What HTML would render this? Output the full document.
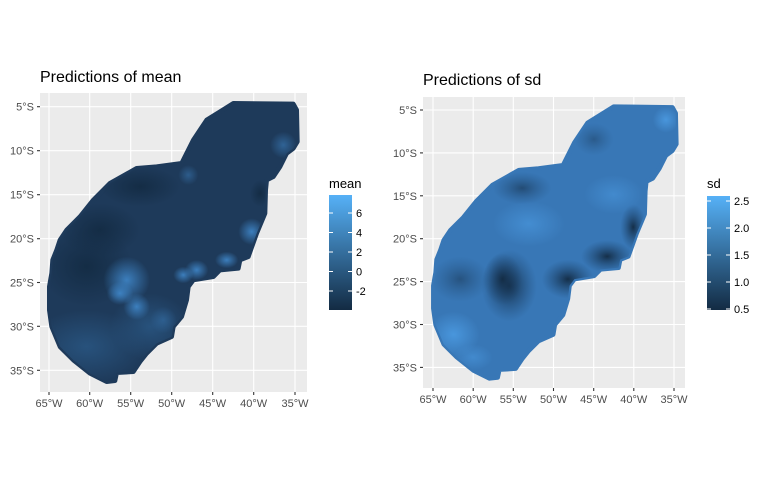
<!DOCTYPE html>
<html><head><meta charset="utf-8"><style>body{margin:0;background:#fff}svg{display:block;font-family:"Liberation Sans",Arial,sans-serif}</style></head><body>
<svg width="768" height="480" viewBox="0 0 768 480">
<defs>
<path id="shape" d="M700,130 L880,132 L890,150 L892,245 L880,265 L860,280 L840,320 L820,350 L800,360 L797,390 L795,460 L770,520 L745,590 L720,600 L715,625 L660,630 L640,650 L580,660 L565,680 L560,720 L545,770 L520,800 L515,830 L470,850 L440,880 L420,905 L400,935 L350,938 L345,962 L320,965 L270,940 L220,900 L180,860 L155,800 L148,750 L148,680 L155,640 L158,600 L170,570 L180,540 L200,510 L240,470 L280,420 L330,370 L410,325 L470,320 L545,310 L560,280 L580,240 L620,180 L660,155 Z"/>
<clipPath id="clipS"><use href="#shape"/></clipPath>
<radialGradient id="glow"><stop offset="0" stop-color="#3f86c8" stop-opacity="0.9"/><stop offset="1" stop-color="#3f86c8" stop-opacity="0"/></radialGradient>
<radialGradient id="soft"><stop offset="0" stop-color="#2a5885" stop-opacity="0.8"/><stop offset="1" stop-color="#2a5885" stop-opacity="0"/></radialGradient>
<radialGradient id="dark"><stop offset="0" stop-color="#132B43" stop-opacity="0.9"/><stop offset="1" stop-color="#132B43" stop-opacity="0"/></radialGradient>
<radialGradient id="darkS"><stop offset="0" stop-color="#132B43" stop-opacity="0.95"/><stop offset="1" stop-color="#1e4670" stop-opacity="0"/></radialGradient>
<radialGradient id="lightS"><stop offset="0" stop-color="#4d9ee6" stop-opacity="0.8"/><stop offset="1" stop-color="#4d9ee6" stop-opacity="0"/></radialGradient>
<linearGradient id="cb" x1="0" y1="0" x2="0" y2="1"><stop offset="0" stop-color="#56B1F7"/><stop offset="1" stop-color="#132B43"/></linearGradient>
</defs>

<!-- LEFT -->
<rect x="40" y="93" width="267" height="299" fill="#ebebeb"/>
<g stroke="#fff" stroke-width="1.1">
<line x1="49" y1="93" x2="49" y2="392"/><line x1="89.7" y1="93" x2="89.7" y2="392"/><line x1="130.7" y1="93" x2="130.7" y2="392"/><line x1="171.7" y1="93" x2="171.7" y2="392"/><line x1="212.7" y1="93" x2="212.7" y2="392"/><line x1="253.7" y1="93" x2="253.7" y2="392"/><line x1="295" y1="93" x2="295" y2="392"/>
<line x1="40" y1="106.7" x2="307" y2="106.7"/><line x1="40" y1="150.7" x2="307" y2="150.7"/><line x1="40" y1="194.7" x2="307" y2="194.7"/><line x1="40" y1="238.7" x2="307" y2="238.7"/><line x1="40" y1="282.5" x2="307" y2="282.5"/><line x1="40" y1="326.3" x2="307" y2="326.3"/><line x1="40" y1="370.3" x2="307" y2="370.3"/>
</g>
<g transform="translate(0,60) scale(0.33333)">
<use href="#shape" fill="#1e3a5a" stroke="#1e3a5a" stroke-width="14" stroke-linejoin="round"/>
<g clip-path="url(#clipS)">
<ellipse cx="260" cy="620" rx="140" ry="120" fill="url(#dark)"/>
<ellipse cx="300" cy="510" rx="120" ry="80" fill="url(#dark)"/>
<ellipse cx="420" cy="380" rx="120" ry="60" fill="url(#dark)"/>
<ellipse cx="260" cy="860" rx="180" ry="110" fill="url(#soft)"/>
<ellipse cx="450" cy="800" rx="120" ry="100" fill="url(#soft)"/>
<ellipse cx="380" cy="660" rx="70" ry="70" fill="url(#glow)"/>
<ellipse cx="360" cy="700" rx="40" ry="35" fill="url(#glow)"/>
<ellipse cx="410" cy="740" rx="40" ry="40" fill="url(#glow)"/>
<ellipse cx="590" cy="630" rx="35" ry="30" fill="url(#glow)"/>
<ellipse cx="550" cy="645" rx="30" ry="25" fill="url(#glow)"/>
<ellipse cx="680" cy="600" rx="35" ry="25" fill="url(#glow)"/>
<ellipse cx="755" cy="515" rx="40" ry="40" fill="url(#glow)"/>
<ellipse cx="850" cy="255" rx="40" ry="40" fill="url(#glow)" opacity="0.6"/>
<ellipse cx="565" cy="345" rx="30" ry="30" fill="url(#glow)" opacity="0.5"/>
<ellipse cx="490" cy="780" rx="40" ry="40" fill="url(#glow)" opacity="0.4"/>
<ellipse cx="780" cy="400" rx="30" ry="40" fill="url(#dark)"/>
</g></g>
<g stroke="#333" stroke-width="1.1">
<line x1="49" y1="392" x2="49" y2="395"/><line x1="89.7" y1="392" x2="89.7" y2="395"/><line x1="130.7" y1="392" x2="130.7" y2="395"/><line x1="171.7" y1="392" x2="171.7" y2="395"/><line x1="212.7" y1="392" x2="212.7" y2="395"/><line x1="253.7" y1="392" x2="253.7" y2="395"/><line x1="295" y1="392" x2="295" y2="395"/>
<line x1="37" y1="106.7" x2="40" y2="106.7"/><line x1="37" y1="150.7" x2="40" y2="150.7"/><line x1="37" y1="194.7" x2="40" y2="194.7"/><line x1="37" y1="238.7" x2="40" y2="238.7"/><line x1="37" y1="282.5" x2="40" y2="282.5"/><line x1="37" y1="326.3" x2="40" y2="326.3"/><line x1="37" y1="370.3" x2="40" y2="370.3"/>
</g>
<g font-size="11" fill="#4d4d4d" text-anchor="middle">
<text x="49" y="407">65°W</text><text x="89.7" y="407">60°W</text><text x="130.7" y="407">55°W</text><text x="171.7" y="407">50°W</text><text x="212.7" y="407">45°W</text><text x="253.7" y="407">40°W</text><text x="295" y="407">35°W</text>
</g>
<g font-size="11" fill="#4d4d4d" text-anchor="end">
<text x="34" y="110.7">5°S</text><text x="34" y="154.7">10°S</text><text x="34" y="198.7">15°S</text><text x="34" y="242.7">20°S</text><text x="34" y="286.5">25°S</text><text x="34" y="330.3">30°S</text><text x="34" y="374.3">35°S</text>
</g>
<text x="40" y="82" font-size="16" fill="#000">Predictions of mean</text>
<text x="329" y="188" font-size="13" fill="#000">mean</text>
<rect x="329" y="195" width="23" height="115" fill="url(#cb)"/>
<g stroke="#fff" stroke-width="1"><line x1="329" y1="213" x2="333" y2="213"/><line x1="348" y1="213" x2="352" y2="213"/><line x1="329" y1="232.5" x2="333" y2="232.5"/><line x1="348" y1="232.5" x2="352" y2="232.5"/><line x1="329" y1="252" x2="333" y2="252"/><line x1="348" y1="252" x2="352" y2="252"/><line x1="329" y1="271.5" x2="333" y2="271.5"/><line x1="348" y1="271.5" x2="352" y2="271.5"/><line x1="329" y1="291" x2="333" y2="291"/><line x1="348" y1="291" x2="352" y2="291"/></g>
<g font-size="11" fill="#000"><text x="356" y="217">6</text><text x="356" y="236.5">4</text><text x="356" y="256">2</text><text x="356" y="275.5">0</text><text x="356" y="295">-2</text></g>

<!-- RIGHT -->
<rect x="423" y="97" width="262" height="291" fill="#ebebeb"/>
<g stroke="#fff" stroke-width="1.1">
<line x1="433" y1="97" x2="433" y2="388"/><line x1="473.2" y1="97" x2="473.2" y2="388"/><line x1="513.3" y1="97" x2="513.3" y2="388"/><line x1="553.5" y1="97" x2="553.5" y2="388"/><line x1="593.7" y1="97" x2="593.7" y2="388"/><line x1="633.8" y1="97" x2="633.8" y2="388"/><line x1="674" y1="97" x2="674" y2="388"/>
<line x1="423" y1="110" x2="685" y2="110"/><line x1="423" y1="152.9" x2="685" y2="152.9"/><line x1="423" y1="195.8" x2="685" y2="195.8"/><line x1="423" y1="238.7" x2="685" y2="238.7"/><line x1="423" y1="281.6" x2="685" y2="281.6"/><line x1="423" y1="324.5" x2="685" y2="324.5"/><line x1="423" y1="367.4" x2="685" y2="367.4"/>
</g>
<g transform="translate(385,64.4) scale(0.3266,0.3254)">
<use href="#shape" fill="#3877b6" stroke="#3877b6" stroke-width="14" stroke-linejoin="round"/>
<g clip-path="url(#clipS)">
<ellipse cx="380" cy="680" rx="85" ry="110" fill="url(#darkS)"/>
<ellipse cx="360" cy="660" rx="60" ry="80" fill="url(#darkS)"/>
<ellipse cx="560" cy="660" rx="80" ry="60" fill="url(#darkS)"/>
<ellipse cx="680" cy="590" rx="80" ry="50" fill="url(#darkS)"/>
<ellipse cx="760" cy="500" rx="40" ry="70" fill="url(#darkS)"/>
<ellipse cx="420" cy="380" rx="90" ry="50" fill="url(#darkS)" opacity="0.6"/>
<ellipse cx="230" cy="660" rx="90" ry="70" fill="url(#darkS)" opacity="0.5"/>
<ellipse cx="640" cy="230" rx="60" ry="50" fill="url(#darkS)" opacity="0.4"/>
<ellipse cx="210" cy="830" rx="80" ry="70" fill="url(#lightS)"/>
<ellipse cx="440" cy="490" rx="110" ry="70" fill="url(#lightS)" opacity="0.7"/>
<ellipse cx="860" cy="170" rx="40" ry="40" fill="url(#lightS)"/>
<ellipse cx="700" cy="400" rx="90" ry="60" fill="url(#lightS)" opacity="0.6"/>
<ellipse cx="270" cy="900" rx="60" ry="40" fill="url(#lightS)" opacity="0.6"/>
</g></g>
<g stroke="#333" stroke-width="1.1">
<line x1="433" y1="388" x2="433" y2="391"/><line x1="473.2" y1="388" x2="473.2" y2="391"/><line x1="513.3" y1="388" x2="513.3" y2="391"/><line x1="553.5" y1="388" x2="553.5" y2="391"/><line x1="593.7" y1="388" x2="593.7" y2="391"/><line x1="633.8" y1="388" x2="633.8" y2="391"/><line x1="674" y1="388" x2="674" y2="391"/>
<line x1="420" y1="110" x2="423" y2="110"/><line x1="420" y1="152.9" x2="423" y2="152.9"/><line x1="420" y1="195.8" x2="423" y2="195.8"/><line x1="420" y1="238.7" x2="423" y2="238.7"/><line x1="420" y1="281.6" x2="423" y2="281.6"/><line x1="420" y1="324.5" x2="423" y2="324.5"/><line x1="420" y1="367.4" x2="423" y2="367.4"/>
</g>
<g font-size="11" fill="#4d4d4d" text-anchor="middle">
<text x="433" y="403">65°W</text><text x="473.2" y="403">60°W</text><text x="513.3" y="403">55°W</text><text x="553.5" y="403">50°W</text><text x="593.7" y="403">45°W</text><text x="633.8" y="403">40°W</text><text x="674" y="403">35°W</text>
</g>
<g font-size="11" fill="#4d4d4d" text-anchor="end">
<text x="417" y="114">5°S</text><text x="417" y="156.9">10°S</text><text x="417" y="199.8">15°S</text><text x="417" y="242.7">20°S</text><text x="417" y="285.6">25°S</text><text x="417" y="328.5">30°S</text><text x="417" y="371.4">35°S</text>
</g>
<text x="423" y="85" font-size="16" fill="#000">Predictions of sd</text>
<text x="707" y="188" font-size="13" fill="#000">sd</text>
<rect x="707" y="196" width="23" height="114" fill="url(#cb)"/>
<g stroke="#fff" stroke-width="1"><line x1="707" y1="201" x2="711" y2="201"/><line x1="726" y1="201" x2="730" y2="201"/><line x1="707" y1="228" x2="711" y2="228"/><line x1="726" y1="228" x2="730" y2="228"/><line x1="707" y1="255" x2="711" y2="255"/><line x1="726" y1="255" x2="730" y2="255"/><line x1="707" y1="282" x2="711" y2="282"/><line x1="726" y1="282" x2="730" y2="282"/><line x1="707" y1="309" x2="711" y2="309"/><line x1="726" y1="309" x2="730" y2="309"/></g>
<g font-size="11" fill="#000"><text x="734" y="205">2.5</text><text x="734" y="232">2.0</text><text x="734" y="259">1.5</text><text x="734" y="286">1.0</text><text x="734" y="313">0.5</text></g>
</svg>
</body></html>
